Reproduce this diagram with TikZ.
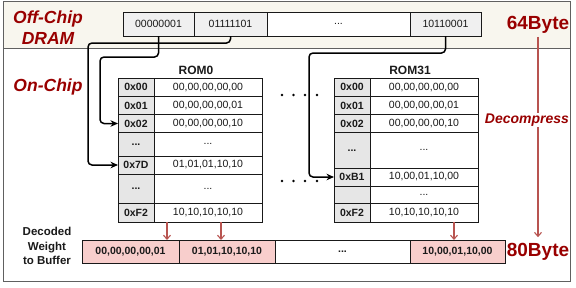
\documentclass[tikz,border=0pt]{standalone}
\usepackage{fontspec}
\setmainfont{Liberation Sans}
\usetikzlibrary{arrows.meta}
\definecolor{dred}{HTML}{990000}
\definecolor{rline}{HTML}{B85450}
\definecolor{pinkf}{HTML}{F8CECC}
\definecolor{beige}{HTML}{F8F6EE}
\definecolor{cellg}{HTML}{E6E6E6}
\definecolor{boxg}{HTML}{F0F0F0}
\definecolor{framec}{HTML}{606060}
\definecolor{txt}{HTML}{1A1A1A}
\newcommand\fs[1]{\fontsize{#1}{#1}\selectfont}
\newcommand\fsb[2]{\fontsize{#1}{#2}\selectfont}
\tikzset{
  cellbase/.style={draw=black!90, line width=1pt, inner sep=0pt, outer sep=0pt, text=txt, anchor=center},
  addrcell/.style={cellbase, fill=cellg, font=\fs{10.5}\bfseries},
  valcell/.style={cellbase, fill=white, font=\fs{10.5}},
  drambox/.style={cellbase, fill=boxg, font=\fs{10.5}, minimum height=24pt},
  bufbox/.style={cellbase, fill=pinkf, font=\fs{10.5}\bfseries, minimum height=23pt},
  conn/.style={draw=black, line width=1.5pt, rounded corners=4pt, -{Stealth[length=7.5pt,width=6.5pt]}},
  redarr/.style={draw=rline, line width=1.1pt, -{Straight Barb[length=4pt,width=7pt]}},
  bigred/.style={text=dred, font=\fsb{17.5}{21}\bfseries\itshape},
  bytelab/.style={text=dred, font=\fs{19}\bfseries, inner sep=0pt},
  romlab/.style={text=txt, font=\fs{12}\bfseries},
}
\newcommand\romrow[8]{%
  \pgfmathsetmacro\rycen{(#5+#6)/2}%
  \pgfmathsetmacro\rhh{#6-#5}%
  \pgfmathsetmacro\rwa{#3-#2}%
  \pgfmathsetmacro\rwb{#4-#3}%
  \pgfmathsetmacro\rxa{(#2+#3)/2}%
  \pgfmathsetmacro\rxb{(#3+#4)/2}%
  \node[addrcell, minimum width=\rwa pt, minimum height=\rhh pt] (#1a) at (\rxa,\rycen) {#7};%
  \node[valcell, minimum width=\rwb pt, minimum height=\rhh pt] (#1v) at (\rxb,\rycen) {#8};%
}
\begin{document}
\begin{tikzpicture}[x=1pt,y=-1pt]
\useasboundingbox (0,0) rectangle (576,287);
% frame and off-chip band
\fill[beige] (3.5,1.5) rectangle (570.5,48);
\draw[framec, line width=1pt] (3.5,48) -- (570.5,48);
\draw[framec, line width=1pt] (3.5,1.5) rectangle (570.5,281);
% labels
\node[bigred, align=center] (offchip) at (48,27.5) {Off-Chip\\DRAM};
\node[bigred] (onchip) at (48,87) {On-Chip};
\node[bytelab] (b64) at (538,25) {64Byte};
\node[bytelab] (b80) at (538,252) {80Byte};
% DRAM boxes
\node[drambox, minimum width=71pt] (d1) at (158.5,24) {00000001};
\node[drambox, minimum width=73pt] (d2) at (230.5,24) {01111101};
\node[drambox, minimum width=143pt, fill=white] (d3) at (338.5,24) {...};
\node[drambox, minimum width=71pt] (d4) at (445.5,24) {10110001};
% ROM labels
\node[romlab] (rom0) at (196,70) {ROM0};
\node[romlab] (rom31) at (410,70) {ROM31};
% ROM0 table
\romrow{a0}{118}{154}{262}{78}{96.5}{0x00}{00,00,00,00,00}
\romrow{a1}{118}{154}{262}{96.5}{114.5}{0x01}{00,00,00,00,01}
\romrow{a2}{118}{154}{262}{114.5}{132.5}{0x02}{00,00,00,00,10}
\romrow{a3}{118}{154}{262}{132.5}{156}{...}{...}
\romrow{a4}{118}{154}{262}{156}{174}{0x7D}{01,01,01,10,10}
\romrow{a5}{118}{154}{262}{174}{203}{...}{...}
\romrow{a6}{118}{154}{262}{203}{222}{0xF2}{10,10,10,10,10}
% ROM31 table
\romrow{b0}{334}{370}{478}{78}{96.5}{0x00}{00,00,00,00,00}
\romrow{b1}{334}{370}{478}{96.5}{114.5}{0x01}{00,00,00,00,01}
\romrow{b2}{334}{370}{478}{114.5}{132.5}{0x02}{00,00,00,00,10}
\romrow{b3}{334}{370}{478}{132.5}{168}{...}{...}
\romrow{b4}{334}{370}{478}{168}{186}{0xB1}{10,00,01,10,00}
\romrow{b5}{334}{370}{478}{186}{203}{}{...}
\romrow{b6}{334}{370}{478}{203}{222}{0xF2}{10,10,10,10,10}
% dots between tables
\foreach \dx in {282,293.5,305,317}{
  \fill[black] (\dx,95) circle (1.3pt);
  \fill[black] (\dx,181) circle (1.3pt);
}
% buffer
\node[align=center, font=\fsb{11.5}{14.5}\bfseries, text=txt] (declab) at (47,246) {Decoded\\Weight\\to Buffer};
\node[bufbox, minimum width=97pt] (u1) at (130.5,251.5) {00,00,00,00,01};
\node[bufbox, minimum width=96pt] (u2) at (227,251.5) {01,01,10,10,10};
\node[bufbox, minimum width=135pt, fill=white] (u3) at (342.5,251.5) {...};
\node[bufbox, minimum width=95pt] (u4) at (457.5,251.5) {10,00,01,10,00};
% connectors
\draw[conn] (d1.south) |- (100,57) |- (a2a.west);
\draw[conn] (d2.south) |- (88,43) |- (a4a.west);
\draw[conn] (d4.south) |- (309,53) |- (b4a.west);
% red arrows
\draw[redarr] (a6v.south -| 167,0) -- (u1.north -| 167,0);
\draw[redarr] (a6v.south -| 221,0) -- (u2.north -| 221,0);
\draw[redarr] (b6v.south -| 454,0) -- (u4.north -| 454,0);
\draw[redarr] ([yshift=-3pt]b64.south) -- ([yshift=6pt]b80.north);
\node[text=dred, font=\fs{14}\bfseries\itshape, fill=white, inner sep=1pt] (decomp) at (527,120) {Decompress};
\end{tikzpicture}
\end{document}
